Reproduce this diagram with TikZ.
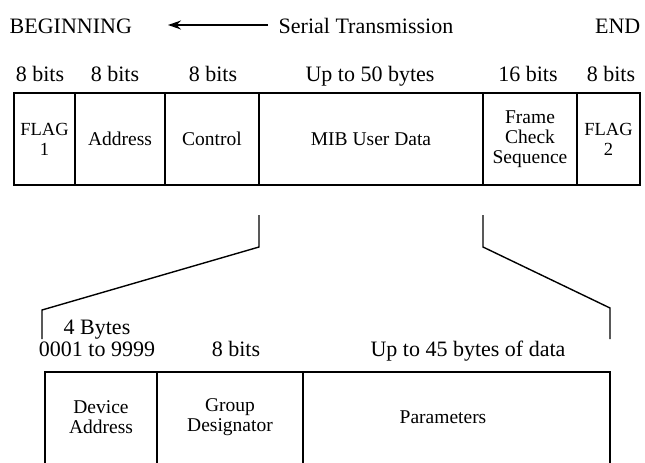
\documentclass[tikz,border=0pt]{standalone}
\usepackage{fontspec}
\setmainfont{Liberation Serif}
\usetikzlibrary{arrows.meta}
\begin{document}
\begin{tikzpicture}[x=1pt,y=-1pt, line width=1.4pt,
  cell/.style={draw, rectangle, inner sep=0pt, minimum height=92pt, align=center,
    font=\fontsize{19.5}{20}\selectfont},
  lowcell/.style={draw, rectangle, inner sep=0pt, minimum height=120pt},
  txt/.style={font=\fontsize{19.5}{20}\selectfont, align=center, inner sep=0pt},
  hdr/.style={font=\fontsize{22}{22}\selectfont, align=center, inner sep=0pt, anchor=base},
  link/.style={line width=1.4pt, line join=miter}]
\useasboundingbox (0,0) rectangle (645,463);

% title row
\node[hdr, anchor=base west] (begin) at (9,33) {BEGINNING};
\node[hdr, anchor=base west] (serial) at (278,33) {Serial Transmission};
\node[hdr, anchor=base east] (end) at (641,33) {END};
\coordinate (tip) at (168,25);
\draw[-{Stealth[length=13pt,width=9pt]}] ([xshift=-10pt]serial.west |- tip) -- (tip);

% top headers
\node[hdr] (h1) at (40,81) {8 bits};
\node[hdr] (h2) at (115,81) {8 bits};
\node[hdr] (h3) at (213,81) {8 bits};
\node[hdr] (h4) at (370,81) {Up to 50 bytes};
\node[hdr] (h5) at (528,81) {16 bits};
\node[hdr] (h6) at (611,81) {8 bits};

% top frame
\node[cell, minimum width=61pt, font=\fontsize{18.5}{20}\selectfont] (flag1) at (44.5,139) {FLAG\\1};
\node[cell, minimum width=90pt] (addr) at (120,139) {Address};
\node[cell, minimum width=94pt] (ctrl) at (212,139) {Control};
\node[cell, minimum width=224pt] (mib) at (371,139) {MIB User Data};
\node[cell, minimum width=94pt] (fcs) at (530,139) {Frame\\Check\\Sequence};
\node[cell, minimum width=63pt, font=\fontsize{18.5}{20}\selectfont] (flag2) at (608.5,139) {FLAG\\2};

% expansion connectors
\coordinate (la) at (259,215);
\coordinate (lb) at (259,247);
\coordinate (lc) at (42,310);
\coordinate (ld) at (42,339);
\coordinate (ra) at (483,215);
\coordinate (rb) at (483,247);
\coordinate (rc) at (610,308);
\coordinate (rd) at (610,339);
\draw[link] (la) -- (lb) -- (lc) -- (ld);
\draw[link] (ra) -- (rb) -- (rc) -- (rd);

% bottom headers
\node[hdr] (b0) at (97,334) {4 Bytes};
\node[hdr] (b1) at (97,356) {0001 to 9999};
\node[hdr] (b2) at (236,356) {8 bits};
\node[hdr] (b3) at (468,356) {Up to 45 bytes of data};

% bottom frame
\node[lowcell, minimum width=112pt] (dev) at (101,432) {};
\node[lowcell, minimum width=146pt] (grp) at (230,432) {};
\node[lowcell, minimum width=307pt] (par) at (456.5,432) {};
\node[txt] (devt) at (dev.center |- 0,417) {Device\\Address};
\node[txt] (grpt) at (grp.center |- 0,417) {Group\\Designator};
\node[txt] (part) at (443,417) {Parameters};
\end{tikzpicture}
\end{document}
